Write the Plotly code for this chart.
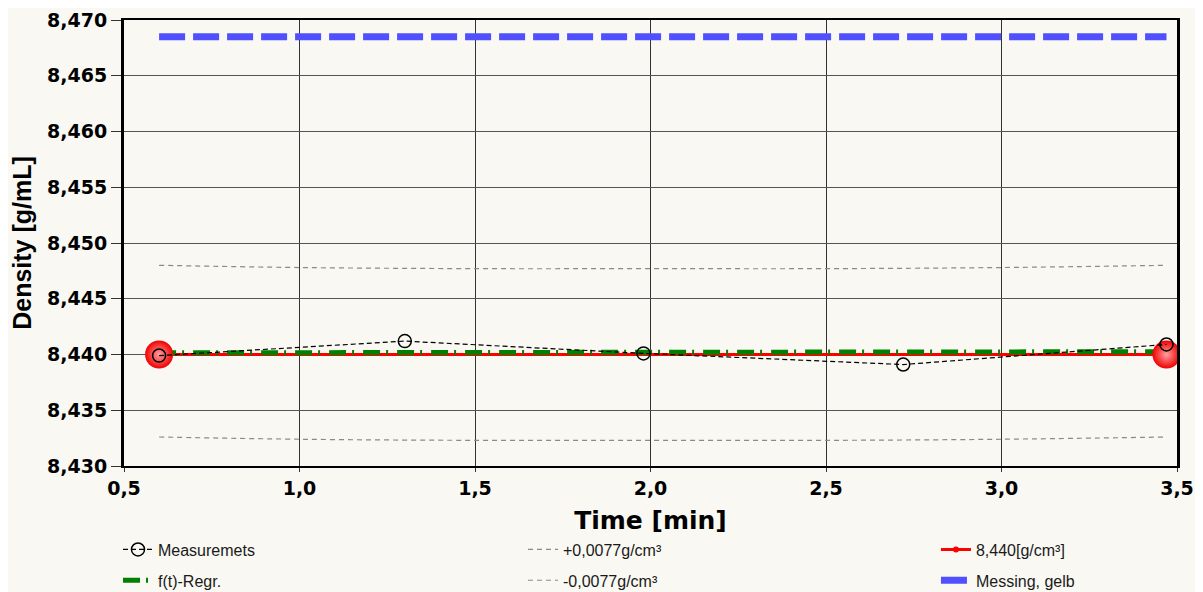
import plotly.graph_objects as go

# Data
meas_t = [0.60, 1.30, 1.98, 2.72, 3.47]
meas_d = [8.4399, 8.4412, 8.4401, 8.4391, 8.4409]

band_t = [0.60, 1.00, 1.50, 2.00, 2.50, 3.00, 3.47]
upper_d = [8.4480, 8.4478, 8.4477, 8.4477, 8.4477, 8.4478, 8.4480]
lower_d = [8.4326, 8.4324, 8.4323, 8.4323, 8.4323, 8.4324, 8.4326]

regr_t = [0.60, 3.47]
regr_d = [8.44015, 8.44025]

ref_t = [0.60, 3.47]
ref_d = [8.440, 8.440]

brass_t = [0.60, 3.47]
brass_d = [8.4685, 8.4685]

fig = go.Figure()

fig.add_trace(go.Scatter(x=band_t, y=upper_d, mode="lines", name="+0,0077g/cm³", legend="legend2",
                         line=dict(color="#8a8a8a", width=1.2, dash="5px,4px", shape="spline")))
fig.add_trace(go.Scatter(x=band_t, y=lower_d, mode="lines", name="-0,0077g/cm³", legend="legend5",
                         line=dict(color="#8a8a8a", width=1.2, dash="5px,4px", shape="spline")))
fig.add_trace(go.Scatter(x=brass_t, y=brass_d, mode="lines", name="Messing, gelb", legend="legend6",
                         line=dict(color="#5050ff", width=7, dash="26px,8px")))
fig.add_trace(go.Scatter(x=ref_t, y=ref_d, mode="lines+markers", name="8,440[g/cm³]", legend="legend3",
                         line=dict(color="#ff0000", width=3),
                         marker=dict(size=6, color="#ff0000")))
fig.add_trace(go.Scatter(x=regr_t, y=regr_d, mode="lines", name="f(t)-Regr.", legend="legend4",
                         line=dict(color="#008000", width=5, dash="17px,6px,2px,9px")))
fig.add_trace(go.Scatter(x=ref_t, y=ref_d, mode="markers", showlegend=False,
                         marker=dict(size=28, color="#f00000",
                                     gradient=dict(type="radial", color="#ffa0a0"),
                                     line=dict(width=0)), hoverinfo="skip"))
fig.add_trace(go.Scatter(x=meas_t, y=meas_d, mode="lines+markers", name="Measuremets", legend="legend",
                         line=dict(color="black", width=1.2, dash="5px,3px"),
                         marker=dict(symbol="circle-open", size=13, color="black",
                                     line=dict(width=1.5, color="black"))))

bg = "#f9f8f2"
leg_font = dict(size=16, color="#1a1a1a", family="Liberation Sans, Arial, sans-serif")
col_x = [-0.0057, 0.3789, 0.7711]
row_y = [-0.1492, -0.2183]


def leg(x, y):
    return dict(x=x, y=y, xanchor="left", yanchor="top", orientation="v",
                font=leg_font, bgcolor="rgba(0,0,0,0)", borderwidth=0)


fig.update_layout(
    width=1195, height=584,
    paper_bgcolor=bg, plot_bgcolor=bg,
    separators=",.",
    margin=dict(l=116, r=26, t=12, b=126, autoexpand=False),
    font=dict(family="Liberation Sans, Arial, sans-serif", color="black"),
    legend=leg(col_x[0], row_y[0]),
    legend2=leg(col_x[1], row_y[0]),
    legend3=leg(col_x[2], row_y[0]),
    legend4=leg(col_x[0], row_y[1]),
    legend5=leg(col_x[1], row_y[1]),
    legend6=leg(col_x[2], row_y[1]),
    xaxis=dict(range=[0.5, 3.5], dtick=0.5, tick0=0.5, tickformat=".1f",
               showgrid=True, gridcolor="#333", gridwidth=1,
               showline=True, linecolor="black", linewidth=2, mirror=True,
               ticks="outside", ticklen=4, tickcolor="#333", automargin=False,
               ticklabeloverflow="allow",
               tickfont=dict(size=19, family="DejaVu Sans", color="black", weight="bold"),
               title=dict(text="Time [min]", standoff=14,
                          font=dict(size=25, family="DejaVu Sans", weight="bold", color="black")),
               zeroline=False),
    yaxis=dict(range=[8.430, 8.470], dtick=0.005, tick0=8.430, tickformat=".3f",
               showgrid=True, gridcolor="#555", gridwidth=1,
               showline=True, linecolor="black", linewidth=3, mirror=True,
               ticks="outside", ticklen=10, tickcolor="#333", automargin=False,
               ticklabeloverflow="allow",
               tickfont=dict(size=19, family="DejaVu Sans", color="black", weight="bold"),
               title=dict(text="Density [g/mL]", standoff=10,
                          font=dict(size=25, family="Liberation Sans, Arial, sans-serif",
                                    weight="bold", color="black")),
               zeroline=False),
)

fig.write_html("out.html")
